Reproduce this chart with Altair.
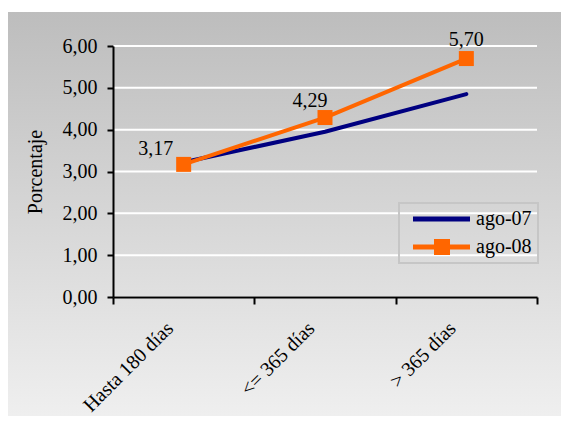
import altair as alt
import pandas as pd

categories = ["Hasta 180 días", "<= 365 días", "> 365 días"]
series_names = ["ago-07", "ago-08"]
ago07 = [3.22, 3.95, 4.85]
ago08 = [3.17, 4.29, 5.70]
y_ticks = [0, 1, 2, 3, 4, 5, 6]

rows = []
for s, vals in zip(series_names, [ago07, ago08]):
    for c, v in zip(categories, vals):
        rows.append({"cat": c, "serie": s, "valor": v})
df = pd.DataFrame(rows)
df08 = df[df["serie"] == "ago-08"].copy()

grid_df = pd.DataFrame({"valor": y_ticks})
bg_df = pd.DataFrame({"k": [0]})

W, H = 424, 251
PAD = {"left": 105, "top": 38, "right": 24, "bottom": 119}
FONT = "Liberation Serif"
FS = 20

x_enc = alt.X(
    "cat:N",
    sort=categories,
    scale=alt.Scale(type="band", paddingInner=0, paddingOuter=0, domain=categories),
    axis=alt.Axis(
        title=None, labelAngle=-45, labelAlign="right", labelBaseline="middle",
        labelFont=FONT, labelFontSize=20, labelColor="black", labelPadding=21,
        labelOffset=-14,
        tickBand="extent", tickSize=7, tickWidth=2, tickColor="black",
        domainColor="black", domainWidth=2, grid=False, zindex=1,
    ),
)
y_enc = alt.Y(
    "valor:Q",
    scale=alt.Scale(domain=[0, 6], nice=False, zero=True),
    axis=alt.Axis(
        title="Porcentaje", titleFont=FONT, titleFontSize=FS, titleFontWeight="normal",
        titleColor="black", titlePadding=17,
        values=y_ticks, labelExpr="replace(format(datum.value, '.2f'), '.', ',')",
        labelFont=FONT, labelFontSize=FS, labelColor="black", labelPadding=10,
        tickSize=6, tickWidth=2, tickColor="black",
        domainColor="black", domainWidth=2, grid=False, zindex=1,
    ),
)

color_scale = alt.Scale(domain=series_names, range=["#000080", "#ff6600"])

gradient = alt.LinearGradient(
    gradient="linear", x1=0, y1=0, x2=0, y2=1,
    stops=[alt.GradientStop(color="#bdbdbd", offset=0),
           alt.GradientStop(color="#efefef", offset=1)],
)

background = alt.Chart(bg_df).mark_rect(fill=gradient).encode(
    x=alt.value(-PAD["left"]), x2=alt.value(W + PAD["right"]),
    y=alt.value(-34), y2=alt.value(H + PAD["bottom"]),
)

grid = alt.Chart(grid_df).mark_rule(color="white", strokeWidth=2).encode(
    y=alt.Y("valor:Q"), x=alt.value(0), x2=alt.value(W),
)

path07 = "M-0.25,-0.3 L6.875,-0.3 L6.875,0.3 L-0.25,0.3 Z"
path08 = ("M-0.25,-0.3 L2.375,-0.3 L2.375,-1 L4.375,-1 L4.375,-0.3 L6.875,-0.3 "
          "L6.875,0.3 L4.375,0.3 L4.375,1 L2.375,1 L2.375,0.3 L-0.25,0.3 Z")

legend = alt.Legend(
    title=None, orient="none", legendX=286, legendY=157,
    symbolSize=256, symbolStrokeWidth=0, symbolOpacity=1,
    labelFont=FONT, labelFontSize=FS, labelColor="black", labelOffset=51,
    padding=6, strokeColor="#c6c6c6", zindex=1,
)

lines = alt.Chart(df).mark_line(strokeWidth=4, strokeCap="round", strokeJoin="round").encode(
    x=x_enc, y=y_enc,
    color=alt.Color("serie:N", scale=color_scale, legend=legend),
    order=alt.Order("serie:N"),
)

squares = alt.Chart(df08).mark_point(shape="square", filled=True, size=225, opacity=1,
                                     color="#ff6600").encode(
    x=alt.X("cat:N", sort=categories), y=alt.Y("valor:Q"),
)

legend_layer = alt.Chart(df).mark_point(filled=True, opacity=0, size=1).encode(
    x=alt.X("cat:N", sort=categories), y=alt.Y("valor:Q"),
    color=alt.Color("serie:N", scale=color_scale, legend=legend),
    shape=alt.Shape("serie:N", scale=alt.Scale(domain=series_names, range=[path07, path08]),
                    legend=legend),
)

label_offsets = {
    "Hasta 180 días": (-28, -15),
    "<= 365 días": (-15, -17),
    "> 365 días": (0, -19),
}
texts = []
for cat in categories:
    dx, dy = label_offsets[cat]
    t = alt.Chart(df08).transform_filter(alt.datum.cat == cat).transform_calculate(
        etiqueta="replace(format(datum.valor, '.2f'), '.', ',')"
    ).mark_text(font=FONT, fontSize=FS, color="black", dx=dx, dy=dy,
                align="center", baseline="middle").encode(
        x=alt.X("cat:N", sort=categories), y=alt.Y("valor:Q"), text="etiqueta:N",
    )
    texts.append(t)

chart = alt.layer(background, grid, lines, squares, legend_layer, *texts).properties(
    width=W, height=H, padding=PAD,
    autosize=alt.AutoSizeParams(type="none"),
    background="white",
).configure_view(stroke=None).configure_legend(rowPadding=8, strokeWidth=2)

chart.save("out.html", embed_options={"renderer": "svg", "actions": False})
